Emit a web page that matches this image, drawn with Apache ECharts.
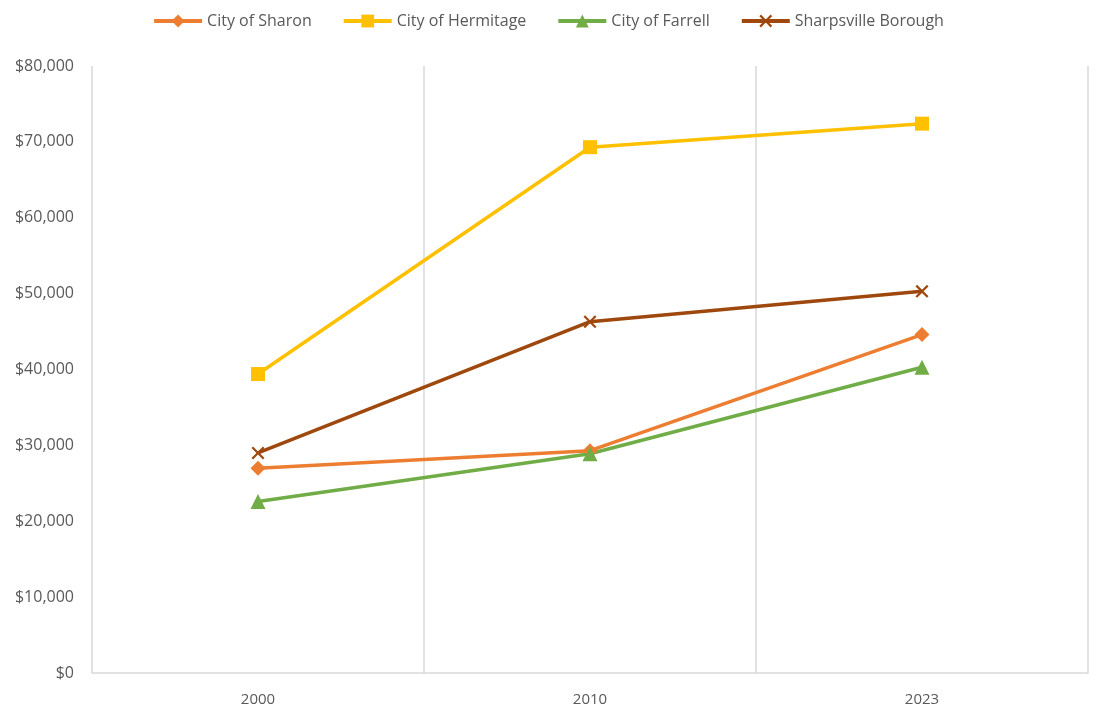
<!DOCTYPE html>
<html><head><meta charset="utf-8">
<script src="https://cdn.jsdelivr.net/npm/echarts@6/dist/echarts.min.js"></script>
<style>html,body{margin:0;padding:0;background:#fff}#c{width:1096px;height:708px}</style>
</head><body><div id="c"></div>
<script>
const categories = ['2000', '2010', '2023'];
const sharon = [27000, 29300, 44600];
const hermitage = [39400, 69300, 72400];
const farrell = [22600, 28900, 40300];
const sharpsville = [29000, 46300, 50300];
const yTicks = [0, 10000, 20000, 30000, 40000, 50000, 60000, 70000, 80000];

const xPath = 'path://M0,1.2L1.2,0L5,3.8L8.8,0L10,1.2L6.2,5L10,8.8L8.8,10L5,6.2L1.2,10L0,8.8L3.8,5Z';
const font = "'Open Sans', 'Liberation Sans', sans-serif";
function mk(name, data, color, symbol, size) {
  return {name, type: 'line', data, symbol, symbolSize: size, showSymbol: true,
    lineStyle: {color, width: 3.5}, itemStyle: {color}, emphasis: {disabled: true}};
}
const chart = echarts.init(document.getElementById('c'));
chart.setOption({
  animation: false,
  textStyle: {fontFamily: font},
  legend: {top: 8, left: 'center', itemGap: 30, itemWidth: 48, itemHeight: 16,
    lineStyle: {width: 4},
    textStyle: {color: '#595959', fontSize: 16, fontFamily: font}},
  grid: {left: 92, right: 8, top: 66, bottom: 35, containLabel: false},
  xAxis: {type: 'category', data: categories, boundaryGap: true,
    axisLine: {show: true, lineStyle: {color: '#d9d9d9', width: 1.5}},
    axisTick: {show: false},
    splitLine: {show: true, lineStyle: {color: '#d9d9d9', width: 1.5}},
    axisLabel: {color: '#595959', fontSize: 15, margin: 19, fontFamily: font}},
  yAxis: {type: 'value', min: yTicks[0], max: yTicks[yTicks.length - 1], interval: 10000,
    axisLine: {show: false}, axisTick: {show: false}, splitLine: {show: false},
    axisLabel: {color: '#595959', fontSize: 16, margin: 18, fontFamily: font,
      formatter: v => '$' + v.toLocaleString('en-US')}},
  series: [
    mk('City of Sharon', sharon, '#ED7D31', 'diamond', 15),
    mk('City of Hermitage', hermitage, '#FFC000', 'rect', 14),
    mk('City of Farrell', farrell, '#70AD47', 'triangle', 15),
    mk('Sharpsville Borough', sharpsville, '#9E480E', xPath, 13)
  ]
});
</script></body></html>
